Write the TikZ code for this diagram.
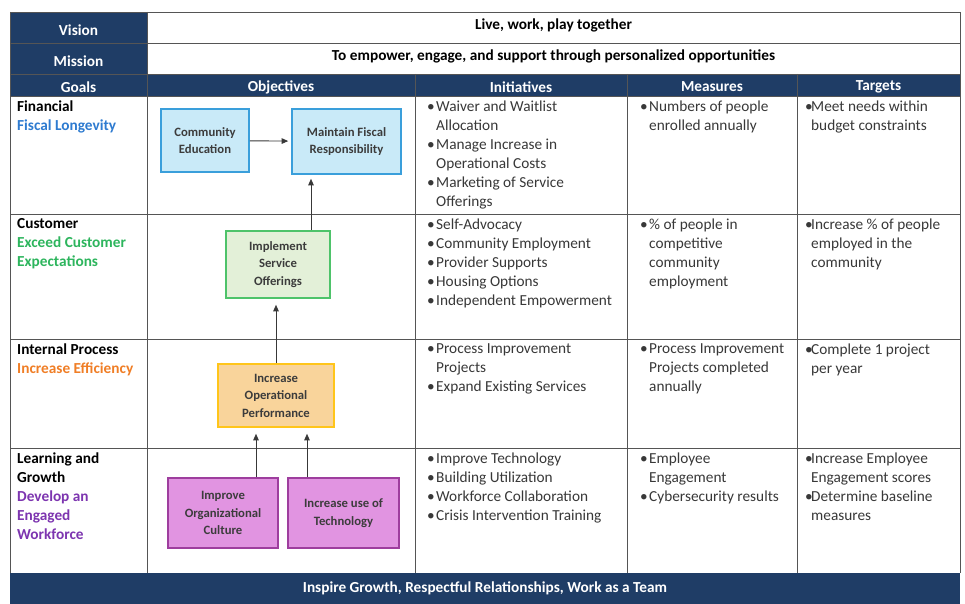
\documentclass[tikz,border=0pt]{standalone}
\usepackage{fontspec}
\setmainfont{Carlito}
\usetikzlibrary{arrows.meta}

\definecolor{navy}{HTML}{1F3D66}
\definecolor{gridgray}{HTML}{555555}
\definecolor{bodygray}{HTML}{383838}
\definecolor{boxtext}{HTML}{3C3C3C}
\definecolor{bluefill}{HTML}{C9EAF8}
\definecolor{blueline}{HTML}{3A9FDB}
\definecolor{greenfill}{HTML}{E3F0D8}
\definecolor{greenline}{HTML}{4EC36A}
\definecolor{orangefill}{HTML}{F9D49B}
\definecolor{orangeline}{HTML}{FFC51A}
\definecolor{purplefill}{HTML}{E194E1}
\definecolor{purpleline}{HTML}{9E3E9E}
\definecolor{fiscal}{HTML}{2E7BD0}
\definecolor{customer}{HTML}{2DB55D}
\definecolor{efficiency}{HTML}{F07E26}
\definecolor{workforce}{HTML}{7D35B0}

\newcommand{\bl}{\makebox[9pt][l]{\textbullet}}
\newcommand{\blt}{\makebox[6pt][l]{\textbullet}}
\newcommand{\ind}{\hspace*{9pt}}
\newcommand{\indt}{\hspace*{6pt}}

\begin{document}
\begin{tikzpicture}[x=1pt,y=-1pt,
	hdr/.style={text=white,font=\bfseries\fontsize{15.3}{18}\selectfont},
	banner/.style={text=black,font=\bfseries\fontsize{15.3}{18}\selectfont},
	goal/.style={anchor=north west,inner sep=0pt,align=left,font=\bfseries\fontsize{15.3}{19}\selectfont},
	cell/.style={anchor=north west,inner sep=0pt,align=left,text=bodygray,font=\fontsize{15.3}{19}\selectfont},
	obj/.style={draw,line width=1.6pt,align=center,inner sep=0pt,text=boxtext,font=\bfseries\fontsize{12.7}{17.5}\selectfont},
	arr/.style={-{Triangle[length=6.5pt,width=5.5pt]},draw=bodygray,line width=0.9pt,shorten >=6pt}]
	
	\useasboundingbox (0,0) rectangle (965,604);
	\fill[white] (0,0) rectangle (965,604);
	
	% Dark cells
	\fill[navy] (10,12) rectangle (147,74);
	\fill[navy] (10,74) rectangle (960,96);
	\fill[navy] (10,573) rectangle (960,604);
	
	% Grid
	\draw[gridgray,line width=0.8pt] (10,12) -- (960,12);
	\draw[gridgray,line width=0.8pt] (10,43) -- (960,43);
	\draw[gridgray,line width=0.8pt] (10,74) -- (960,74);
	\draw[gridgray,line width=0.8pt] (10,96) -- (960,96);
	\draw[gridgray,line width=0.8pt] (10,214) -- (960,214);
	\draw[gridgray,line width=0.8pt] (10,339) -- (960,339);
	\draw[gridgray,line width=0.8pt] (10,448) -- (960,448);
	\draw[gridgray,line width=0.8pt] (10,12) -- (10,573);
	\draw[gridgray,line width=0.8pt] (960,12) -- (960,573);
	\draw[gridgray,line width=0.8pt] (147,12) -- (147,573);
	\draw[gridgray,line width=0.8pt] (415,74) -- (415,573);
	\draw[gridgray,line width=0.8pt] (627,74) -- (627,573);
	\draw[gridgray,line width=0.8pt] (797,74) -- (797,573);
	
	% Header texts
	\node[hdr] (vision) at (78.5,30) {Vision};
	\node[hdr] (mission) at (78.5,61) {Mission};
	\node[banner] (visiontext) at (553.5,25) {Live, work, play together};
	\node[banner] (missiontext) at (553.5,56) {To empower, engage, and support through personalized opportunities};
	\node[hdr] (goals) at (78.5,87) {Goals};
	\node[hdr] (objectives) at (281,87) {Objectives};
	\node[hdr] (initiatives) at (521,87) {Initiatives};
	\node[hdr] (measures) at (712,87) {Measures};
	\node[hdr] (targets) at (878.5,87) {Targets};
	\node[hdr] (values) at (485,588) {Inspire Growth, Respectful Relationships, Work as a Team};
	
	% Goals
	\node[goal] (gfin) at (17,100.5) {Financial\\\textcolor{fiscal}{Fiscal Longevity}};
	\node[goal] (gcus) at (17,218.5) {Customer\\\textcolor{customer}{Exceed Customer}\\\textcolor{customer}{Expectations}};
	\node[goal] (gint) at (17,343.5) {Internal Process\\\textcolor{efficiency}{Increase Efficiency}};
	\node[goal] (glea) at (17,452.5) {Learning and\\Growth\\\textcolor{workforce}{Develop an}\\\textcolor{workforce}{Engaged}\\\textcolor{workforce}{Workforce}};
	
	% Initiatives
	\node[cell] (ifin) at (427,100.5) {\bl Waiver and Waitlist\\\ind Allocation\\\bl Manage Increase in\\\ind Operational Costs\\\bl Marketing of Service\\\ind Offerings};
	\node[cell] (icus) at (427,218.5) {\bl Self-Advocacy\\\bl Community Employment\\\bl Provider Supports\\\bl Housing Options\\\bl Independent Empowerment};
	\node[cell] (iint) at (427,343.5) {\bl Process Improvement\\\ind Projects\\\bl Expand Existing Services};
	\node[cell] (ilea) at (427,452.5) {\bl Improve Technology\\\bl Building Utilization\\\bl Workforce Collaboration\\\bl Crisis Intervention Training};
	
	% Measures
	\node[cell] (mfin) at (640,100.5) {\bl Numbers of people\\\ind enrolled annually};
	\node[cell] (mcus) at (640,218.5) {\bl \% of people in\\\ind competitive\\\ind community\\\ind employment};
	\node[cell] (mint) at (640,343.5) {\bl Process Improvement\\\ind Projects completed\\\ind annually};
	\node[cell] (mlea) at (640,452.5) {\bl Employee\\\ind Engagement\\\bl Cybersecurity results};
	
	% Targets
	\node[cell] (tfin) at (805,100.5) {\blt Meet needs within\\\indt budget constraints};
	\node[cell] (tcus) at (805,218.5) {\blt Increase \% of people\\\indt employed in the\\\indt community};
	\node[cell] (tint) at (805,343.5) {\blt Complete 1 project\\\indt per year};
	\node[cell] (tlea) at (805,452.5) {\blt Increase Employee\\\indt Engagement scores\\\blt Determine baseline\\\indt measures};
	
	% Objective boxes
	\node[obj,fill=bluefill,draw=blueline,minimum width=88pt,minimum height=63pt] (comedu) at (205,140.5) {Community\\Education};
	\node[obj,fill=bluefill,draw=blueline,minimum width=109pt,minimum height=65pt] (fiscalresp) at (346.5,141.5) {Maintain Fiscal\\Responsibility};
	\node[obj,fill=greenfill,draw=greenline,minimum width=104pt,minimum height=67pt] (service) at (278,264.5) {Implement\\Service\\Offerings};
	\node[obj,fill=orangefill,draw=orangeline,minimum width=116pt,minimum height=63pt] (operation) at (276,395.5) {Increase\\Operational\\Performance};
	\node[obj,fill=purplefill,draw=purpleline,minimum width=110pt,minimum height=70pt] (culture) at (223,513) {Improve\\Organizational\\Culture};
	\node[obj,fill=purplefill,draw=purpleline,minimum width=111pt,minimum height=70pt] (technology) at (343.5,513) {Increase use of\\Technology};
	
	% Arrows
	\coordinate (upa) at (311,0);
	\coordinate (upb) at (256,0);
	\coordinate (upc) at (307,0);
	\draw[arr,shorten >=3pt] (comedu) -- (fiscalresp);
	\draw[arr,shorten >=4pt] (service.north -| upa) -- (fiscalresp.south -| upa);
	\draw[arr] (operation.north) -- (operation.north |- service.south);
	\draw[arr] (culture.north -| upb) -- (operation.south -| upb);
	\draw[arr] (technology.north -| upc) -- (operation.south -| upc);
\end{tikzpicture}
\end{document}
